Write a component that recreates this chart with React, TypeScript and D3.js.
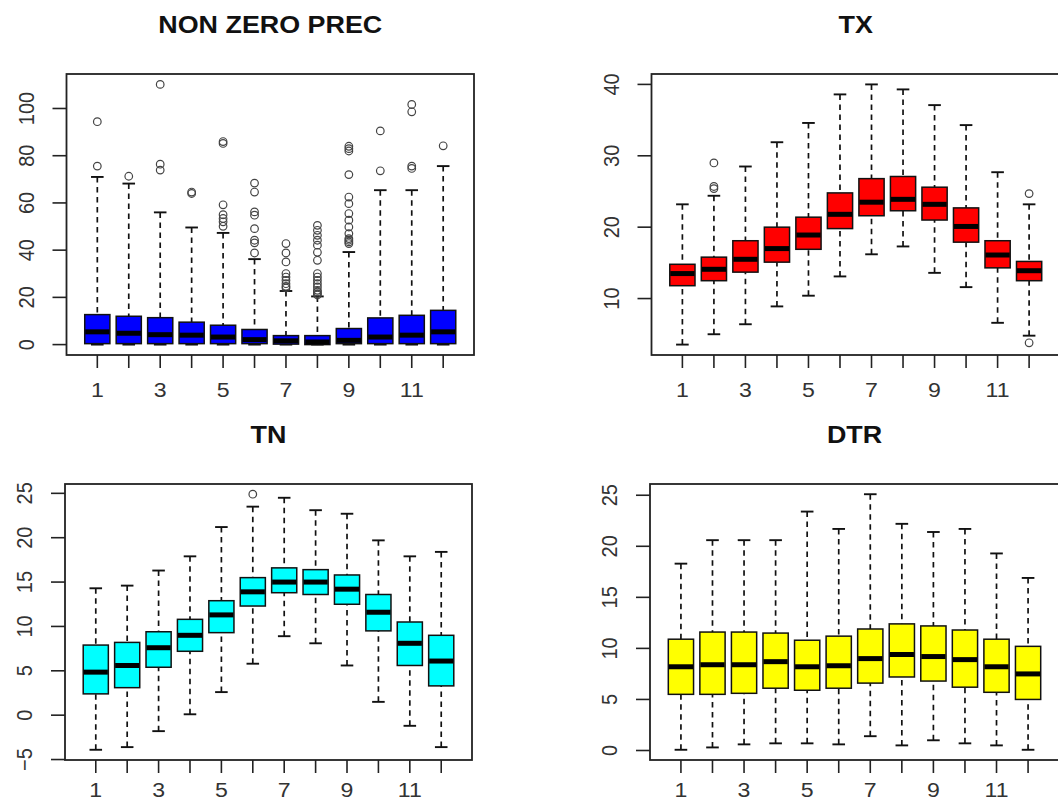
import * as d3 from 'd3';
import { useEffect, useRef } from 'react';

const months = [1, 2, 3, 4, 5, 6, 7, 8, 9, 10, 11, 12];
const monthLabels = ['1', '', '3', '', '5', '', '7', '', '9', '', '11', ''];

// NON ZERO PREC
const precLow = [0, 0, 0, 0, 0, 0, 0, 0, 0, 0, 0, 0];
const precQ1 = [0.4, 0.4, 0.4, 0.4, 0.4, 0.4, 0.2, 0.0, 0.4, 0.4, 0.4, 0.4];
const precMed = [5.4, 4.8, 4.2, 4.0, 3.2, 2.1, 1.6, 1.1, 1.8, 3.2, 4.0, 5.4];
const precQ3 = [12.7, 12.0, 11.4, 9.5, 8.2, 6.4, 3.8, 3.8, 6.8, 11.3, 12.4, 14.5];
const precHigh = [71.0, 68.2, 56.0, 49.6, 47.3, 36.2, 22.7, 20.4, 39.2, 65.4, 65.4, 75.6];
const precOut = [
  [75.6, 94.4],
  [71.3],
  [73.9, 76.4, 110.2],
  [64.0, 64.6],
  [50.1, 52.0, 53.4, 55.0, 59.2, 85.2, 86.0],
  [38.8, 43.1, 44.2, 49.1, 54.8, 56.2, 64.6, 68.4],
  [24.0, 24.7, 25.8, 27.2, 28.6, 30.1, 35.0, 38.8, 42.8],
  [21.0, 21.6, 22.3, 23.0, 24.4, 25.8, 27.2, 28.6, 30.1, 35.7, 39.1, 42.1, 44.2, 46.3, 48.4, 50.5],
  [42.8, 43.5, 44.2, 44.9, 47.0, 49.8, 52.7, 55.5, 59.7, 62.5, 72.0, 82.0, 83.0, 84.0],
  [73.6, 90.5],
  [74.6, 75.6, 98.6, 101.7],
  [84.2],
];
const precTicks = [0, 20, 40, 60, 80, 100];

// TX
const txLow = [3.55, 5.0, 6.4, 8.9, 10.4, 13.1, 16.2, 17.3, 13.6, 11.6, 6.6, 4.8];
const txQ1 = [11.8, 12.5, 13.7, 15.1, 16.9, 19.8, 21.6, 22.3, 21.0, 17.9, 14.3, 12.5];
const txMed = [13.5, 14.1, 15.5, 17.0, 18.9, 21.8, 23.5, 23.9, 23.2, 20.1, 16.1, 13.9];
const txQ3 = [14.8, 15.8, 18.1, 20.0, 21.4, 24.8, 26.8, 27.1, 25.6, 22.7, 18.1, 15.2];
const txHigh = [23.2, 24.4, 28.5, 31.9, 34.6, 38.6, 40.0, 39.3, 37.1, 34.3, 27.7, 23.2];
const txOut = [[], [25.4, 25.7, 29.0], [], [], [], [], [], [], [], [], [], [3.8, 24.7]];
const txTicks = [10, 20, 30, 40];

// TN
const tnLow = [-3.9, -3.6, -1.8, 0.1, 2.6, 5.8, 8.9, 8.1, 5.6, 1.5, -1.2, -3.6];
const tnQ1 = [2.4, 3.1, 5.4, 7.2, 9.3, 12.3, 13.8, 13.6, 12.5, 9.5, 5.6, 3.3];
const tnMed = [4.85, 5.6, 7.6, 9.0, 11.3, 13.9, 15.0, 15.0, 14.2, 11.6, 8.1, 6.1];
const tnQ3 = [7.9, 8.2, 9.4, 10.8, 12.9, 15.5, 16.6, 16.4, 15.8, 13.6, 10.5, 9.0];
const tnHigh = [14.3, 14.6, 16.3, 17.9, 21.2, 23.5, 24.5, 23.1, 22.7, 19.7, 17.9, 18.4];
const tnOut = [[], [], [], [], [], [24.9], [], [], [], [], [], []];
const tnTicks = [-5, 0, 5, 10, 15, 20, 25];

// DTR
const dtrLow = [0.07, 0.3, 0.6, 0.7, 0.7, 0.6, 1.4, 0.5, 1.0, 0.7, 0.5, 0.07];
const dtrQ1 = [5.5, 5.5, 5.6, 6.1, 5.9, 6.1, 6.6, 7.2, 6.8, 6.2, 5.7, 5.0];
const dtrMed = [8.2, 8.4, 8.4, 8.7, 8.2, 8.3, 9.0, 9.4, 9.2, 8.9, 8.2, 7.5];
const dtrQ3 = [10.9, 11.6, 11.6, 11.5, 10.8, 11.2, 11.9, 12.4, 12.2, 11.8, 10.9, 10.2];
const dtrHigh = [18.3, 20.6, 20.6, 20.6, 23.4, 21.7, 25.1, 22.2, 21.4, 21.7, 19.3, 16.9];
const dtrOut = [[], [], [], [], [], [], [], [], [], [], [], []];
const dtrTicks = [0, 5, 10, 15, 20, 25];

const panels = [
  { title: 'NON ZERO PREC', fill: '#0000ff', low: precLow, q1: precQ1, med: precMed, q3: precQ3, high: precHigh, out: precOut, ticks: precTicks, box: [66.5, 474, 74, 355] },
  { title: 'TX', fill: '#ff0000', low: txLow, q1: txQ1, med: txMed, q3: txQ3, high: txHigh, out: txOut, ticks: txTicks, box: [651.5, 1060, 74, 355] },
  { title: 'TN', fill: '#00ffff', low: tnLow, q1: tnQ1, med: tnMed, q3: tnQ3, high: tnHigh, out: tnOut, ticks: tnTicks, box: [65, 472, 484, 760] },
  { title: 'DTR', fill: '#ffff00', low: dtrLow, q1: dtrQ1, med: dtrMed, q3: dtrQ3, high: dtrHigh, out: dtrOut, ticks: dtrTicks, box: [650, 1059, 484, 760] },
];

const font = 'Liberation Sans, Arial, Helvetica, sans-serif';
const stretch = 1.1;

export default function App() {
  const ref = useRef<SVGSVGElement>(null);

  useEffect(() => {
    const svg = d3.select(ref.current);
    svg.selectAll('*').remove();

    panels.forEach((p) => {
      const [left, right, top, bottom] = p.box;
      const all = [...p.low, ...p.high, ...p.out.flat()];
      const lo = d3.min(all) as number, hi = d3.max(all) as number;
      const pad = (hi - lo) * 0.04;
      const y = d3.scaleLinear().domain([lo - pad, hi + pad]).range([bottom, top]);
      const x = d3.scaleLinear().domain([0.5 - 0.48, 12.5 + 0.48]).range([left, right]);
      const bw = x(1.4) - x(0.6);
      const cap = bw / 2;

      const g = svg.append('g');

      // title
      g.append('text')
        .attr('transform', `translate(${(left + right) / 2},${top - 41}) scale(1.12,1)`)
        .attr('text-anchor', 'middle')
        .attr('font-family', font)
        .attr('font-weight', 'bold')
        .attr('font-size', 24)
        .attr('fill', '#111')
        .text(p.title);

      const items = months.map((m, i) => ({ m, i }));

      // whiskers
      g.selectAll('.wl').data(items).join('line')
        .attr('x1', (d) => x(d.m)).attr('x2', (d) => x(d.m))
        .attr('y1', (d) => y(p.low[d.i])).attr('y2', (d) => y(p.q1[d.i]))
        .attr('stroke', '#111').attr('stroke-width', 1.7).attr('stroke-dasharray', '5.5,4.5');
      g.selectAll('.wh').data(items).join('line')
        .attr('x1', (d) => x(d.m)).attr('x2', (d) => x(d.m))
        .attr('y1', (d) => y(p.high[d.i])).attr('y2', (d) => y(p.q3[d.i]))
        .attr('stroke', '#111').attr('stroke-width', 1.7).attr('stroke-dasharray', '5.5,4.5');
      // caps
      ['low', 'high'].forEach((k) => {
        const arr = (p as any)[k] as number[];
        g.selectAll(`.cap-${k}`).data(items).join('line')
          .attr('x1', (d) => x(d.m) - cap / 2).attr('x2', (d) => x(d.m) + cap / 2)
          .attr('y1', (d) => y(arr[d.i])).attr('y2', (d) => y(arr[d.i]))
          .attr('stroke', '#111').attr('stroke-width', 1.9);
      });

      // boxes
      g.selectAll('.bx').data(items).join('rect')
        .attr('x', (d) => x(d.m) - bw / 2)
        .attr('width', bw)
        .attr('y', (d) => y(p.q3[d.i]))
        .attr('height', (d) => Math.max(1, y(p.q1[d.i]) - y(p.q3[d.i])))
        .attr('fill', p.fill)
        .attr('stroke', '#111')
        .attr('stroke-width', 1.5);

      // medians
      g.selectAll('.md').data(items).join('line')
        .attr('x1', (d) => x(d.m) - bw / 2 + 0.5).attr('x2', (d) => x(d.m) + bw / 2 - 0.5)
        .attr('y1', (d) => y(p.med[d.i])).attr('y2', (d) => y(p.med[d.i]))
        .attr('stroke', '#000').attr('stroke-width', 5);

      // outliers
      const pts = items.flatMap((d) => p.out[d.i].map((v) => ({ m: d.m, v })));
      g.selectAll('.ol').data(pts).join('circle')
        .attr('cx', (d) => x(d.m)).attr('cy', (d) => y(d.v)).attr('r', 3.8)
        .attr('fill', 'none').attr('stroke', '#444').attr('stroke-width', 1.2);

      // frame
      g.append('rect')
        .attr('x', left).attr('y', top).attr('width', right - left).attr('height', bottom - top)
        .attr('fill', 'none').attr('stroke', '#222').attr('stroke-width', 1.8);

      // y axis
      const ya = g.append('g');
      ya.selectAll('line').data(p.ticks).join('line')
        .attr('x1', left - 14).attr('x2', left)
        .attr('y1', (d) => y(d)).attr('y2', (d) => y(d))
        .attr('stroke', '#222').attr('stroke-width', 1.6);
      ya.selectAll('text').data(p.ticks).join('text')
        .attr('transform', (d) => `translate(${left - 33},${y(d)}) rotate(-90) scale(1,1.08)`)
        .attr('text-anchor', 'middle')
        .attr('font-family', font)
        .attr('font-size', 20)
        .attr('fill', '#333')
        .text((d) => d3.format('d')(d));

      // x axis
      const labelY = Math.min(bottom + 42, 797);
      const xa = g.append('g');
      xa.selectAll('line').data(months).join('line')
        .attr('x1', (d) => x(d)).attr('x2', (d) => x(d))
        .attr('y1', bottom).attr('y2', bottom + 13)
        .attr('stroke', '#222').attr('stroke-width', 1.6);
      xa.selectAll('text').data(months).join('text')
        .attr('transform', (d) => `translate(${x(d)},${labelY}) scale(${stretch},1)`)
        .attr('text-anchor', 'middle')
        .attr('font-family', font)
        .attr('font-size', 21)
        .attr('fill', '#333')
        .text((d, i) => monthLabels[i]);
    });
  }, []);

  return (
    <svg
      ref={ref}
      width={1058}
      height={805}
      style={{ position: 'absolute', left: 0, top: 0, background: '#fff', display: 'block' }}
    />
  );
}
